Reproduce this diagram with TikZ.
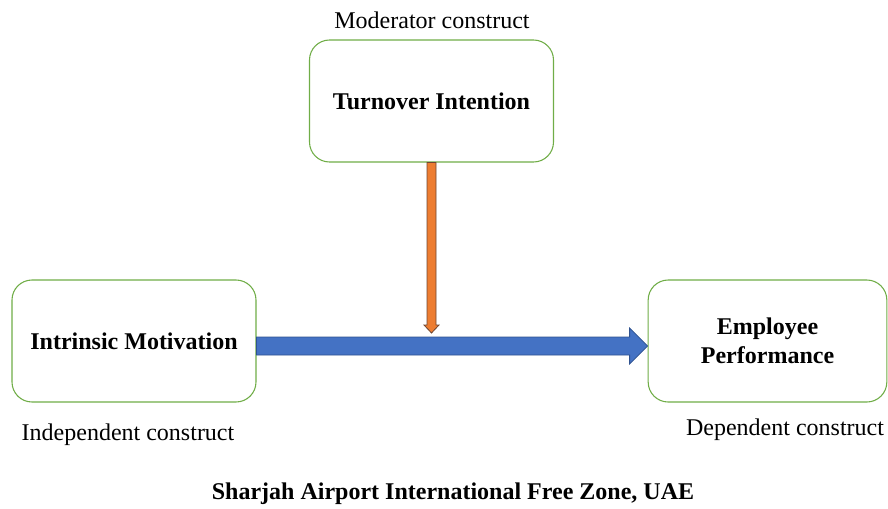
\documentclass[tikz,border=0pt]{standalone}
\usepackage{fontspec}
\setmainfont{Liberation Serif}
\usepackage{tikz}
\usetikzlibrary{positioning,calc}

\definecolor{boxgreen}{RGB}{112,173,71}
\definecolor{arrblue}{RGB}{68,114,196}
\definecolor{arrblueline}{RGB}{47,82,143}
\definecolor{arrorange}{RGB}{237,125,49}
\definecolor{arrorangeline}{RGB}{110,70,50}

\begin{document}
\begin{tikzpicture}[x=0.75pt,y=0.75pt,yscale=-1,xscale=1,
  construct/.style={draw=boxgreen,line width=0.8pt,rounded corners=15pt,fill=white,
    minimum width=183pt,minimum height=91.5pt,align=center,
    font=\fontsize{18}{21.5}\selectfont\bfseries},
  caption/.style={font=\fontsize{18}{21.5}\selectfont}]
\useasboundingbox (0,0) rectangle (888,508);

%Rounded Rect
\node[construct] (ti) at (431.5,101) {Turnover Intention};
%Rounded Rect
\node[construct] (im) at (134,341) {Intrinsic Motivation};
%Rounded Rect
\node[construct,minimum width=179pt] (ep) at (767.5,341) {Employee\\Performance};

%Block arrow (independent -> dependent)
\filldraw[fill=arrblue,draw=arrblueline,line width=0.6pt]
  ($(im.east)+(0,-4)$) -- ($(ep.west)+(-18,-4)$) -- ($(ep.west)+(-18,-13)$)
  -- ($(ep.west)+(0,5)$) -- ($(ep.west)+(-18,23)$) -- ($(ep.west)+(-18,14)$)
  -- ($(im.east)+(0,14)$) -- cycle;

%Block arrow (moderator)
\coordinate (mtip) at (431.5,333);
\filldraw[fill=arrorange,draw=arrorangeline,line width=0.6pt]
  ($(ti.south)+(-4.5,0)$) -- ($(mtip)+(-4.5,-8)$) -- ($(mtip)+(-7.5,-8)$)
  -- (mtip) -- ($(mtip)+(7.5,-8)$) -- ($(mtip)+(4.5,-8)$)
  -- ($(ti.south)+(4.5,0)$) -- cycle;

% Text Node
\node[caption] (mod) at (432,20) {Moderator construct};
% Text Node
\node[caption] (ind) at (128,435) {Independent construct};
% Text Node
\node[caption] (dep) at (785,430) {Dependent construct};
% Text Node
\node[caption,font=\fontsize{18}{21.5}\selectfont\bfseries] (zone) at (453,494) {Sharjah Airport International Free Zone, UAE};
\end{tikzpicture}
\end{document}
